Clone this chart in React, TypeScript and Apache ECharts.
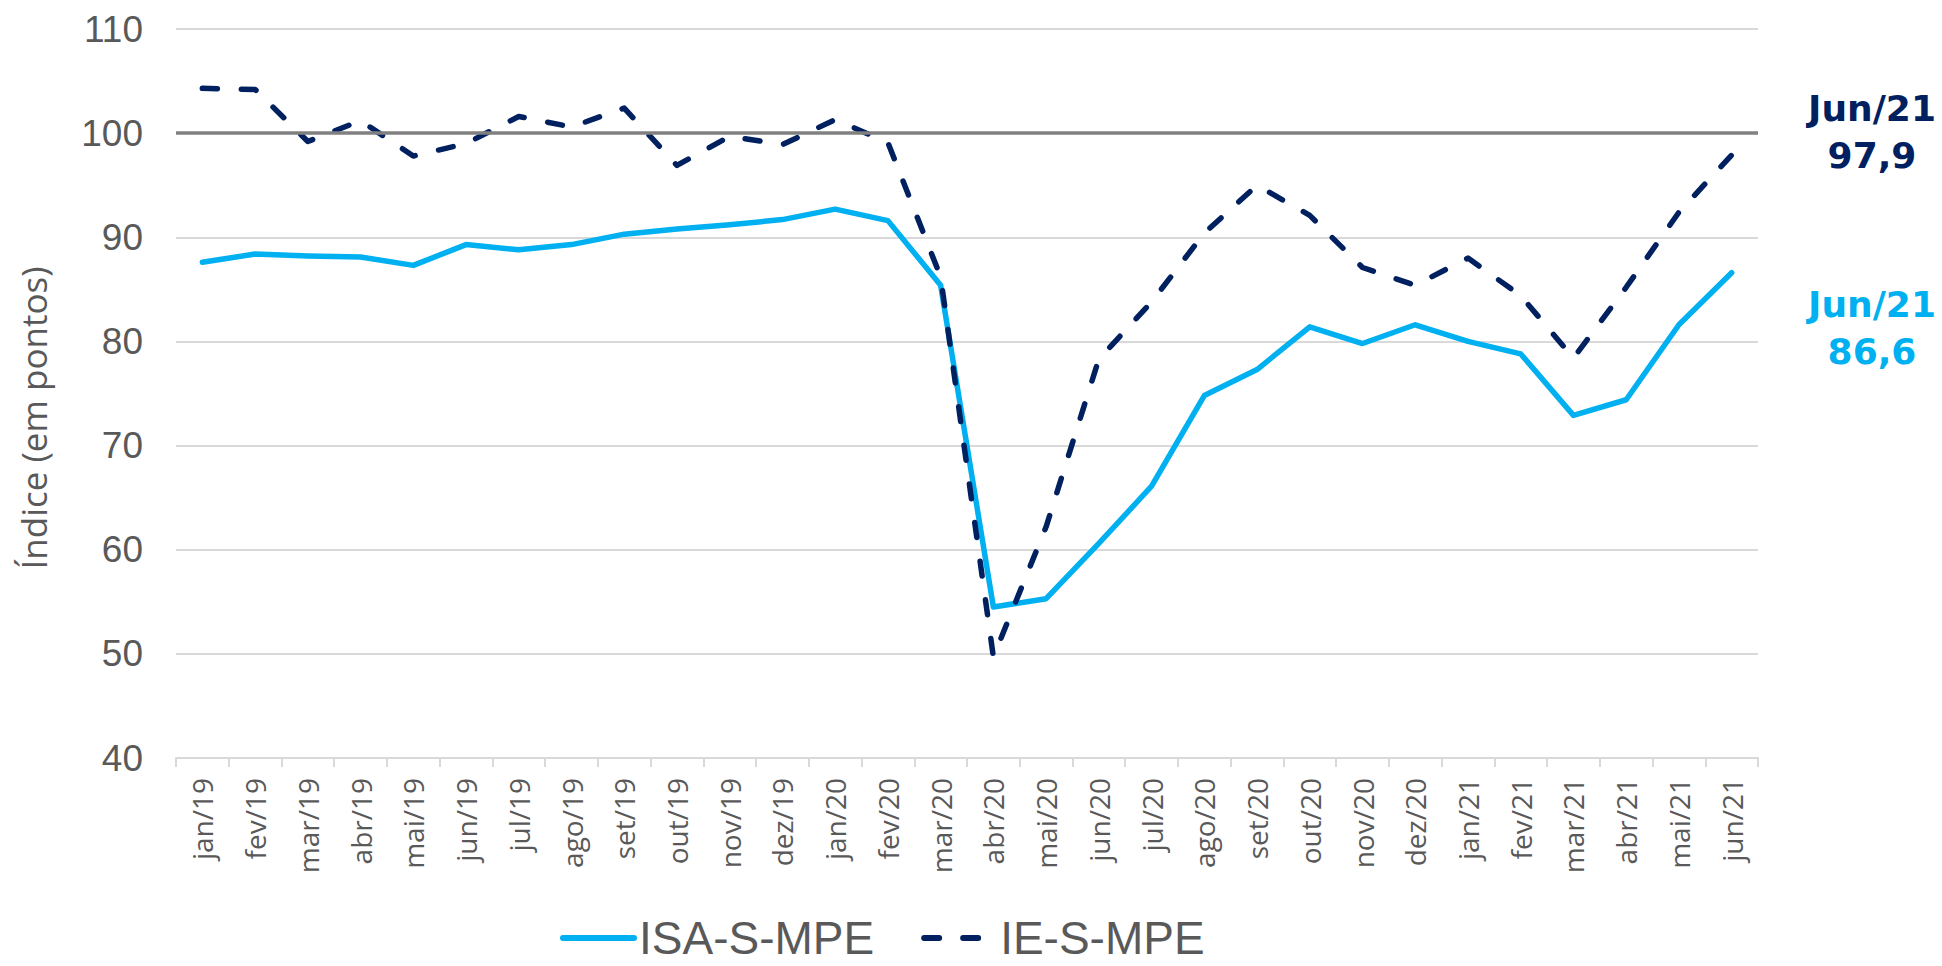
import React, { useEffect, useRef } from "react";
import * as echarts from "echarts";

const categories = [
  "jan/19", "fev/19", "mar/19", "abr/19", "mai/19", "jun/19", "jul/19", "ago/19", "set/19", "out/19",
  "nov/19", "dez/19", "jan/20", "fev/20", "mar/20", "abr/20", "mai/20", "jun/20", "jul/20", "ago/20",
  "set/20", "out/20", "nov/20", "dez/20", "jan/21", "fev/21", "mar/21", "abr/21", "mai/21", "jun/21",
];

const isaSMPE = [
  87.6, 88.4, 88.2, 88.1, 87.3, 89.3, 88.8, 89.3, 90.3, 90.8,
  91.2, 91.7, 92.7, 91.6, 85.4, 54.5, 55.3, 60.6, 66.1, 74.8,
  77.3, 81.4, 79.8, 81.6, 80.0, 78.8, 72.9, 74.4, 81.6, 86.6,
];

const ieSMPE = [
  104.3, 104.2, 99.2, 101.2, 97.8, 99.0, 101.6, 100.6, 102.4, 96.9,
  99.7, 98.9, 101.3, 99.1, 86.2, 49.7, 62.2, 78.3, 83.8, 90.4,
  95.0, 92.1, 87.1, 85.4, 88.0, 84.4, 78.4, 85.2, 92.4, 97.9,
];

const seriesNames = ["ISA-S-MPE", "IE-S-MPE"];
const yTicks = { min: 40, max: 110, interval: 10 };
const referenceValue = 100;

const fmt = (v: number) => v.toFixed(1).replace(".", ",");
const cap = (s: string) => s.charAt(0).toUpperCase() + s.slice(1);

export default function App() {
  const ref = useRef<HTMLDivElement>(null);

  useEffect(() => {
    if (!ref.current) return;
    const chart = echarts.init(ref.current, null, { renderer: "svg" });
    const last = categories.length - 1;
    const gray = "#595959";

    chart.setOption({
      animation: false,
      backgroundColor: "#ffffff",
      grid: { left: 176, right: 184, top: 29, bottom: 208 },
      xAxis: {
        type: "category",
        data: categories,
        boundaryGap: true,
        axisLine: { show: true, lineStyle: { color: "#d9d9d9", width: 2 } },
        axisTick: { show: true, length: 9, lineStyle: { color: "#d9d9d9", width: 2 } },
        axisLabel: {
          interval: 0,
          rotate: 90,
          margin: 20,
          color: gray,
          fontFamily: "Open Sans",
          fontSize: 28,
        },
        splitLine: { show: false },
      },
      yAxis: {
        type: "value",
        min: yTicks.min,
        max: yTicks.max,
        interval: yTicks.interval,
        axisLine: { show: false },
        axisTick: { show: false },
        axisLabel: {
          margin: 33,
          color: gray,
          fontFamily: "Liberation Sans, Arial, sans-serif",
          fontSize: 37,
        },
        splitLine: { show: true, lineStyle: { color: "#d9d9d9", width: 2 } },
      },
      legend: {
        data: seriesNames,
        left: 555,
        top: 910,
        itemWidth: 71,
        itemHeight: 14,
        itemGap: 47,
        itemStyle: { opacity: 0, borderWidth: 0 },
        lineStyle: { width: 6, cap: "round" },
        textStyle: {
          color: gray,
          fontFamily: "Liberation Sans, Arial, sans-serif",
          fontSize: 46,
        },
      },
      series: [
        {
          name: seriesNames[0],
          type: "line",
          data: isaSMPE,
          symbol: "none",
          z: 3,
          lineStyle: { color: "#00b0f0", width: 5.5, cap: "round", join: "round" },
          itemStyle: { color: "#00b0f0" },
          markLine: {
            silent: true,
            symbol: "none",
            label: { show: false },
            lineStyle: { color: "#808080", width: 3.5, type: "solid" },
            data: [{ yAxis: referenceValue }],
          },
        },
        {
          name: seriesNames[1],
          type: "line",
          data: ieSMPE,
          symbol: "none",
          z: 4,
          lineStyle: {
            color: "#002060",
            width: 5.5,
            type: [15, 24],
            cap: "round",
            join: "round",
          },
          itemStyle: { color: "#002060" },
        },
      ],
      graphic: [
        {
          type: "text",
          x: 33,
          y: 418,
          rotation: Math.PI / 2,
          style: {
            text: "Índice (em pontos)",
            fill: gray,
            fontFamily: "Open Sans",
            fontSize: 35,
            align: "center",
            verticalAlign: "middle",
          },
        },
        {
          type: "text",
          x: 1872,
          y: 132,
          style: {
            text: `${cap(categories[last])}\n${fmt(ieSMPE[last])}`,
            fill: "#002060",
            fontFamily: "DejaVu Sans",
            fontWeight: "bold",
            fontSize: 36,
            lineHeight: 47,
            align: "center",
            verticalAlign: "middle",
          },
        },
        {
          type: "text",
          x: 1872,
          y: 328,
          style: {
            text: `${cap(categories[last])}\n${fmt(isaSMPE[last])}`,
            fill: "#00b0f0",
            fontFamily: "DejaVu Sans",
            fontWeight: "bold",
            fontSize: 36,
            lineHeight: 47,
            align: "center",
            verticalAlign: "middle",
          },
        },
      ],
    });

    return () => chart.dispose();
  }, []);

  return (
    <div
      ref={ref}
      style={{ position: "absolute", left: 0, top: 0, width: 1942, height: 966 }}
    />
  );
}
